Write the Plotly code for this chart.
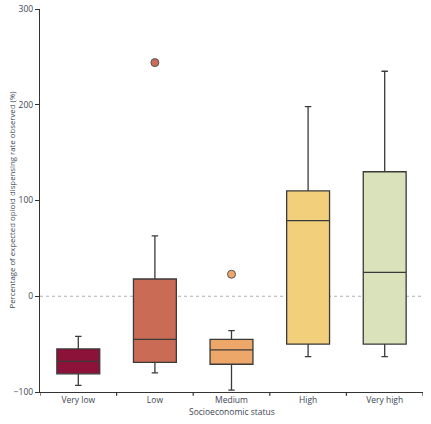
import plotly.graph_objects as go

categories = ["Very low", "Low", "Medium", "High", "Very high"]
q1 = [-81, -69, -71, -50, -50]
median = [-68, -45, -56, 79, 25]
q3 = [-55, 18, -45, 110, 130]
lower_whisker = [-93, -80, -98, -63, -63]
upper_whisker = [-42, 63, -36, 198, 235]
outlier_cats = ["Low", "Medium"]
outlier_vals = [244, 23]
fill_colors = ["#8c1239", "#c96b55", "#eca769", "#f2d07b", "#d9e2ba"]
outlier_colors = ["#c96b55", "#eca769"]

fig = go.Figure()

for i, cat in enumerate(categories):
    fig.add_trace(go.Box(
        x=[cat],
        q1=[q1[i]],
        median=[median[i]],
        q3=[q3[i]],
        lowerfence=[lower_whisker[i]],
        upperfence=[upper_whisker[i]],
        fillcolor=fill_colors[i],
        line=dict(color="#3a3a3a", width=1.3),
        whiskerwidth=0.15,
        width=0.56,
        boxpoints=False,
        showlegend=False,
        hoverinfo="skip",
    ))

fig.add_trace(go.Scatter(
    x=outlier_cats,
    y=outlier_vals,
    mode="markers",
    marker=dict(size=8, color=outlier_colors, line=dict(color="#555555", width=1)),
    showlegend=False,
    hoverinfo="skip",
))

fig.add_shape(
    type="line", xref="paper", x0=0, x1=1, yref="y", y0=0, y1=0,
    line=dict(color="#b0b0b0", width=1, dash="dot"), layer="below",
)

# tick marks between categories on the x axis
for k in range(6):
    fig.add_shape(
        type="line", xref="x", x0=k - 0.5, x1=k - 0.5, yref="paper", y0=0, y1=-0.01,
        line=dict(color="#333333", width=1.2),
    )

fig.add_annotation(
    text="Socioeconomic status", xref="paper", yref="paper", x=0.5, y=0,
    yshift=-12, yanchor="top", showarrow=False, font=dict(size=8.5),
)
fig.add_annotation(
    text="Percentage of expected opioid dispensing rate observed (%)",
    xref="paper", yref="paper", x=0, y=0.5, xshift=-36, textangle=-90,
    showarrow=False, font=dict(size=7.8),
)

fig.update_layout(
    width=431,
    height=424,
    margin=dict(l=40, r=8, t=9, b=32),
    plot_bgcolor="white",
    paper_bgcolor="white",
    font=dict(family="Open Sans", size=8.5, color="#3d4555"),
    xaxis=dict(
        type="category",
        categoryorder="array",
        categoryarray=categories,
        range=[-0.5, 4.5],
        showline=True,
        linecolor="#333333",
        linewidth=1.2,
        ticks="",
        showgrid=False,
        zeroline=False,
        automargin=False,
    ),
    yaxis=dict(
        range=[-100, 300],
        tickvals=[-100, 0, 100, 200, 300],
        showline=True,
        linecolor="#333333",
        linewidth=1.2,
        ticks="outside",
        ticklen=4,
        tickcolor="#333333",
        showgrid=False,
        zeroline=False,
        automargin=False,
    ),
)

# drop the default page margin so the figure sits at the window's corner
fig.write_html(
    "out.html",
    config={"displayModeBar": False},
    post_script="document.body.style.margin='0';",
)
